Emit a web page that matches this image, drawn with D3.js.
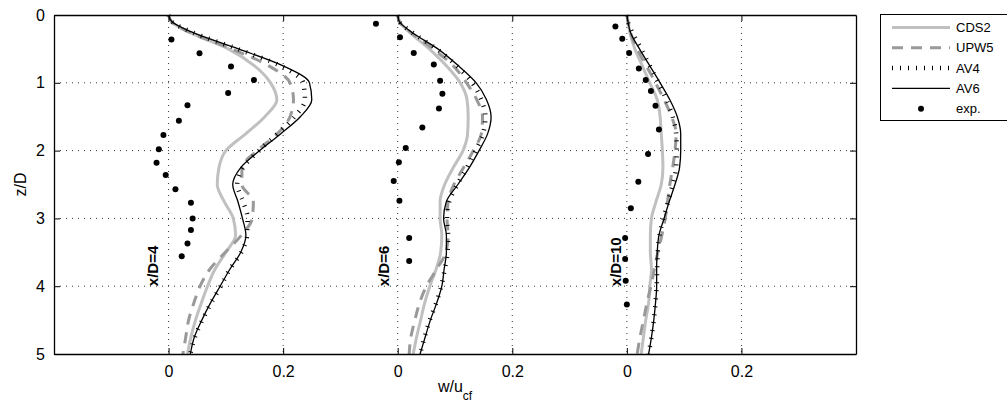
<!DOCTYPE html>
<html>
<head>
<meta charset="utf-8">
<script src="https://cdn.jsdelivr.net/npm/d3@7"></script>
<style>
  body { margin: 0; background: #fff; }
  svg { display: block; font-family: "Liberation Sans", Arial, sans-serif; }
</style>
</head>
<body>
<svg id="chart" width="1007" height="409"></svg>
<script>
// z/D levels shared by the simulated profiles
const zGrid = [0, 0.1, 0.25, 0.5, 0.75, 1.0, 1.25, 1.5, 1.75, 2.0, 2.25, 2.5,
  2.75, 3.0, 3.25, 3.5, 3.75, 4.0, 4.25, 4.5, 4.75, 5.0];

const stations = ["x/D=4", "x/D=6", "x/D=10"];
const stationOffset = [0, 0.4, 0.8];
const stationLabelW = [-0.018, -0.015, -0.011];
const stationLabelZ = 4;

// w/u_cf per station, one row per station
const cds2 = [
  [0, 0.005, 0.035, 0.104, 0.15, 0.178, 0.189, 0.168, 0.135, 0.1, 0.088, 0.085, 0.097, 0.113, 0.117, 0.1, 0.081, 0.068, 0.057, 0.047, 0.039, 0.033],
  [0, 0.003, 0.02, 0.055, 0.085, 0.109, 0.121, 0.123, 0.122, 0.114, 0.097, 0.082, 0.074, 0.074, 0.077, 0.075, 0.067, 0.056, 0.047, 0.04, 0.033, 0.027],
  [0, 0.002, 0.005, 0.014, 0.027, 0.04, 0.053, 0.058, 0.06, 0.062, 0.063, 0.06, 0.051, 0.043, 0.041, 0.041, 0.043, 0.04, 0.038, 0.033, 0.029, 0.025]
];
const upw5 = [
  [0, 0.005, 0.035, 0.11, 0.175, 0.212, 0.218, 0.212, 0.19, 0.155, 0.128, 0.128, 0.148, 0.146, 0.127, 0.099, 0.072, 0.055, 0.044, 0.035, 0.03, 0.025],
  [0, 0.003, 0.022, 0.062, 0.097, 0.12, 0.138, 0.148, 0.146, 0.132, 0.115, 0.098, 0.088, 0.086, 0.088, 0.084, 0.068, 0.05, 0.038, 0.03, 0.023, 0.02],
  [0, 0.002, 0.006, 0.018, 0.034, 0.05, 0.065, 0.078, 0.086, 0.084, 0.08, 0.075, 0.071, 0.067, 0.061, 0.054, 0.048, 0.042, 0.035, 0.029, 0.023, 0.018]
];
const av4 = [
  [0, 0.006, 0.04, 0.12, 0.195, 0.235, 0.238, 0.22, 0.19, 0.158, 0.13, 0.12, 0.13, 0.138, 0.137, 0.127, 0.107, 0.091, 0.074, 0.059, 0.046, 0.038],
  [0, 0.003, 0.024, 0.068, 0.103, 0.13, 0.146, 0.153, 0.149, 0.136, 0.121, 0.104, 0.09, 0.086, 0.088, 0.087, 0.082, 0.076, 0.067, 0.056, 0.047, 0.039],
  [0, 0.002, 0.009, 0.025, 0.04, 0.055, 0.069, 0.08, 0.086, 0.087, 0.086, 0.08, 0.072, 0.064, 0.057, 0.054, 0.053, 0.052, 0.05, 0.047, 0.043, 0.038]
];
const av6 = [
  [0, 0.006, 0.04, 0.122, 0.2, 0.246, 0.25, 0.23, 0.196, 0.159, 0.126, 0.112, 0.121, 0.129, 0.135, 0.126, 0.107, 0.09, 0.073, 0.058, 0.045, 0.038],
  [0, 0.003, 0.024, 0.07, 0.106, 0.137, 0.155, 0.163, 0.157, 0.142, 0.125, 0.105, 0.085, 0.08, 0.085, 0.085, 0.081, 0.077, 0.068, 0.057, 0.048, 0.039],
  [0, 0.002, 0.006, 0.022, 0.04, 0.058, 0.075, 0.088, 0.094, 0.094, 0.092, 0.084, 0.074, 0.065, 0.056, 0.053, 0.052, 0.052, 0.05, 0.047, 0.043, 0.038]
];

// experiments
const expZ = [
  [0.36, 0.565, 0.76, 0.96, 1.15, 1.33, 1.56, 1.77, 1.98, 2.18, 2.36, 2.57, 2.77, 3.0, 3.17, 3.37, 3.56],
  [0.13, 0.33, 0.56, 0.73, 0.97, 1.16, 1.38, 1.66, 1.96, 2.17, 2.45, 2.74, 3.29, 3.63],
  [0.17, 0.35, 0.56, 0.79, 0.96, 1.12, 1.34, 1.69, 2.05, 2.46, 2.85, 3.29, 3.6, 3.92, 4.27]
];
const expW = [
  [0.005, 0.054, 0.109, 0.149, 0.104, 0.033, 0.018, -0.009, -0.017, -0.021, -0.005, 0.012, 0.039, 0.042, 0.039, 0.033, 0.023],
  [-0.038, 0.004, 0.028, 0.063, 0.074, 0.078, 0.072, 0.043, 0.014, 0.002, -0.007, 0.003, 0.02, 0.02],
  [-0.02, -0.008, 0.004, 0.021, 0.033, 0.042, 0.05, 0.056, 0.037, 0.02, 0.007, -0.003, -0.003, -0.002, 0]
];

const xTicks = [0, 0.2, 0.4, 0.6, 0.8, 1.0];
const xTickLabels = ["0", "0.2", "0", "0.2", "0", "0.2"];
const yTicks = [0, 1, 2, 3, 4, 5];
const yGrid = [1, 2, 3, 4];

const seriesNames = ["CDS2", "UPW5", "AV4", "AV6", "exp."];

const svg = d3.select("#chart");
const margin = { left: 54, right: 151, top: 15, bottom: 55 };
const width = 1007, height = 409;

const x = d3.scaleLinear().domain([-0.2, 1.2]).range([margin.left, width - margin.right]);
const y = d3.scaleLinear().domain([0, 5]).range([margin.top, height - margin.bottom]);

const styles = {
  CDS2: { stroke: "#c0c0c0", width: 3, dash: null },
  UPW5: { stroke: "#999999", width: 3, dash: "11,8" },
  AV4: { stroke: "#000", width: 4.5, dash: "1,7" },
  AV6: { stroke: "#000", width: 1.3, dash: null }
};

// grid
const grid = svg.append("g").attr("stroke", "#000").attr("stroke-width", 0.8)
  .attr("stroke-dasharray", "1,5");
grid.selectAll("line.v").data(xTicks).join("line")
  .attr("x1", d => x(d)).attr("x2", d => x(d))
  .attr("y1", y(0)).attr("y2", y(5));
grid.selectAll("line.h").data(yGrid).join("line")
  .attr("x1", x(-0.2)).attr("x2", x(1.2))
  .attr("y1", d => y(d)).attr("y2", d => y(d));

// profiles
const line = d3.line()
  .x(d => x(d[0]))
  .y(d => y(d[1]))
  .curve(d3.curveMonotoneY);

const series = [["CDS2", cds2], ["UPW5", upw5], ["AV4", av4], ["AV6", av6]];
series.forEach(([name, rows]) => {
  const st = styles[name];
  svg.append("g").selectAll("path").data(rows).join("path")
    .attr("fill", "none")
    .attr("stroke", st.stroke)
    .attr("stroke-width", st.width)
    .attr("stroke-dasharray", st.dash)
    .attr("d", (row, i) => line(row.map((w, j) => [stationOffset[i] + w, zGrid[j]])));
});

// experiment dots
expZ.forEach((zs, i) => {
  svg.append("g").selectAll("circle").data(zs).join("circle")
    .attr("cx", (z, j) => x(stationOffset[i] + expW[i][j]))
    .attr("cy", z => y(z))
    .attr("r", 3)
    .attr("fill", "#000");
});

// station labels
svg.append("g").selectAll("text").data(stations).join("text")
  .attr("transform", (d, i) => `translate(${x(stationOffset[i] + stationLabelW[i])},${y(stationLabelZ)}) rotate(-90)`)
  .attr("font-size", 15)
  .attr("font-weight", "bold")
  .text(d => d);

// axes (ticks inward)
const tickLen = 6;
svg.append("g")
  .attr("transform", `translate(0,${y(5)})`)
  .call(d3.axisBottom(x).tickValues(xTicks).tickFormat((d, i) => xTickLabels[i])
    .tickSizeInner(-tickLen).tickSizeOuter(0).tickPadding(12))
  .call(g => g.selectAll("text").attr("font-size", 16).attr("fill", "#000"));
svg.append("g")
  .attr("transform", `translate(0,${y(0)})`)
  .call(d3.axisTop(x).tickValues(xTicks).tickFormat("")
    .tickSizeInner(-tickLen).tickSizeOuter(0));
svg.append("g")
  .attr("transform", `translate(${x(-0.2)},0)`)
  .call(d3.axisLeft(y).tickValues(yTicks).tickFormat(d3.format("d"))
    .tickSizeInner(-tickLen).tickSizeOuter(0).tickPadding(9))
  .call(g => g.selectAll("text").attr("font-size", 16).attr("fill", "#000"));
svg.append("g")
  .attr("transform", `translate(${x(1.2)},0)`)
  .call(d3.axisRight(y).tickValues(yTicks).tickFormat("")
    .tickSizeInner(-tickLen).tickSizeOuter(0));
svg.selectAll(".domain").attr("stroke", "#000").attr("stroke-width", 1.3);
svg.selectAll(".tick line").attr("stroke", "#000");
svg.selectAll(".tick text").attr("font-family", "Liberation Sans, Arial, sans-serif");

// axis titles
svg.append("text")
  .attr("transform", `translate(26,${(y(0) + y(5)) / 2}) rotate(-90)`)
  .attr("text-anchor", "middle")
  .attr("font-size", 16)
  .text("z/D");

const xl = svg.append("text")
  .attr("x", (x(-0.2) + x(1.2)) / 2)
  .attr("y", 392)
  .attr("text-anchor", "middle")
  .attr("font-size", 16);
xl.append("tspan").text("w/u");
xl.append("tspan").attr("font-size", 12).attr("dy", 8).text("cf");

// legend
const lg = svg.append("g");
lg.append("rect")
  .attr("x", 880.5).attr("y", 14.5)
  .attr("width", 130).attr("height", 106)
  .attr("fill", "#fff").attr("stroke", "#000").attr("stroke-width", 1);
seriesNames.forEach((name, i) => {
  const ly = 27.5 + i * 20.3;
  if (name === "exp.") {
    lg.append("circle").attr("cx", 921).attr("cy", ly).attr("r", 3).attr("fill", "#000");
  } else {
    const st = styles[name];
    lg.append("line")
      .attr("x1", 892).attr("x2", 950).attr("y1", ly).attr("y2", ly)
      .attr("stroke", st.stroke).attr("stroke-width", st.width)
      .attr("stroke-dasharray", st.dash);
  }
  lg.append("text")
    .attr("x", 956).attr("y", ly).attr("dy", "0.36em")
    .attr("font-size", 13)
    .text(name);
});
</script>
</body>
</html>
